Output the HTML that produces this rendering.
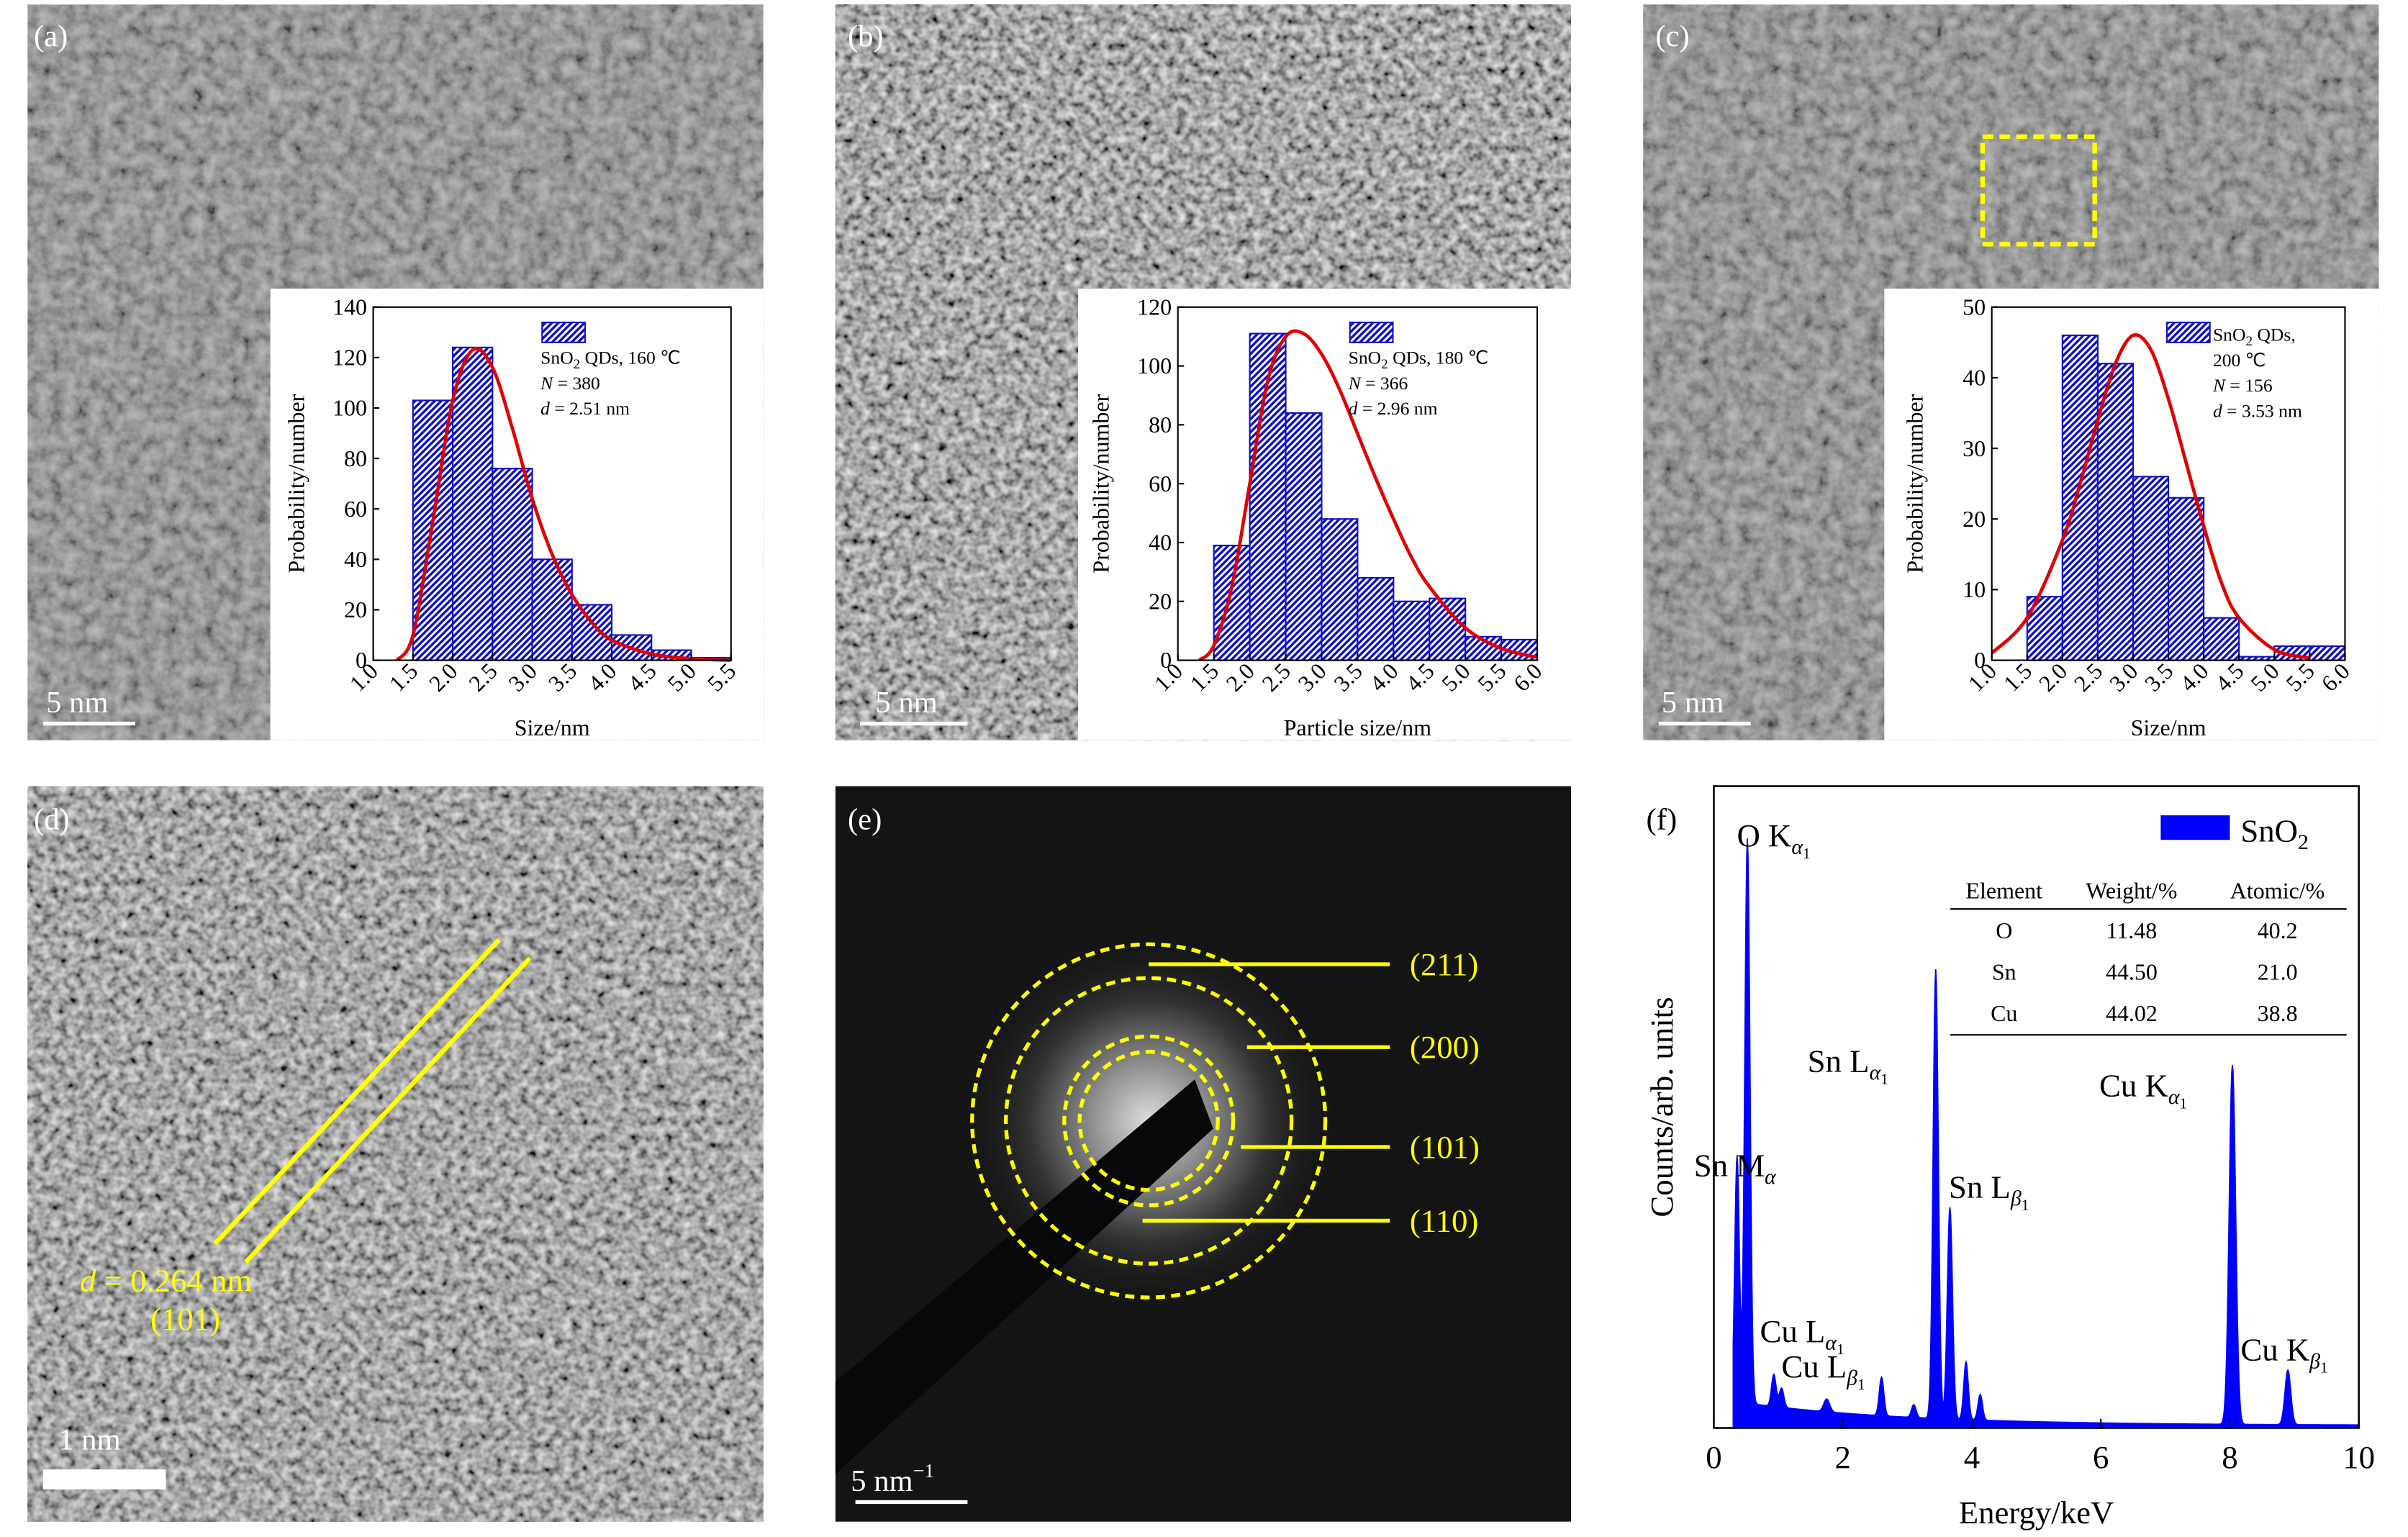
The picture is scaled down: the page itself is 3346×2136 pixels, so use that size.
<!DOCTYPE html>
<html><head><meta charset="utf-8"><style>
html,body{margin:0;padding:0;background:#fff}
svg{display:block;font-family:"Liberation Serif",serif}
</style></head><body>
<svg id="fig" xmlns="http://www.w3.org/2000/svg" width="3346" height="2136" viewBox="0 0 1568 1001">
<defs>
<filter id="tem" x="0" y="0" width="1" height="1">
<feTurbulence type="fractalNoise" baseFrequency="0.12" numOctaves="3" seed="3"/>
<feColorMatrix type="matrix" values="1.4 0 0 0 -0.2  1.4 0 0 0 -0.2  1.4 0 0 0 -0.2  0 0 0 0 1"/>
</filter>
<filter id="tem2" x="0" y="0" width="1" height="1">
<feTurbulence type="fractalNoise" baseFrequency="0.18" numOctaves="2" seed="7"/>
<feColorMatrix type="matrix" values="1.4 0 0 0 -0.25  1.4 0 0 0 -0.25  1.4 0 0 0 -0.25  0 0 0 0 1"/>
</filter>
<pattern id="hatch" width="3" height="3" patternUnits="userSpaceOnUse" patternTransform="rotate(45)">
<rect width="3" height="3" fill="#fff"/><rect width="1.6" height="3" fill="#1010c8"/>
</pattern>
<radialGradient id="glow" cx="0.5" cy="0.5" r="0.5"><stop offset="0" stop-color="#ddd"/><stop offset="0.25" stop-color="#999"/><stop offset="0.6" stop-color="#333"/><stop offset="1" stop-color="#111" stop-opacity="0"/></radialGradient>
</defs>

<g><rect x="18" y="3" width="479" height="479" fill="#7c7c7c"/><rect x="18" y="3" width="479" height="479" filter="url(#tem)" opacity="0.45"/></g>
<g><rect x="544" y="3" width="479" height="479" fill="#666"/><rect x="544" y="3" width="479" height="479" filter="url(#tem2)" opacity="0.85"/></g>
<g><rect x="1070" y="3" width="479" height="479" fill="#7c7c7c"/><rect x="1070" y="3" width="479" height="479" filter="url(#tem)" opacity="0.45"/></g>
<g><rect x="18" y="512" width="479" height="479" fill="#777"/><rect x="18" y="512" width="479" height="479" filter="url(#tem2)" opacity="0.8"/></g>
<g><rect x="544" y="512" width="479" height="479" fill="#141414"/>
<circle cx="748" cy="730" r="130" fill="url(#glow)"/>
<polygon points="544,900 544,960 790,735 778,703" fill="#080808"/>
</g>
<rect x="176" y="188" width="321" height="294" fill="#fff"/>
<rect x="702" y="188" width="321" height="294" fill="#fff"/>
<rect x="1227" y="188" width="322" height="294" fill="#fff"/>

<g font-size="20" fill="#fff">
<text x="22" y="30">(a)</text>
<text x="552" y="30">(b)</text>
<text x="1078" y="30">(c)</text>
<text x="22" y="540">(d)</text>
<text x="552" y="540">(e)</text>
</g>
<text x="1072" y="540" font-size="20">(f)</text>
<g font-size="20" fill="#fff">
<text x="30" y="464">5 nm</text><rect x="28" y="470" width="60" height="2.5"/>
<text x="570" y="464">5 nm</text><rect x="560" y="470" width="70" height="2.5"/>
<text x="1082" y="464">5 nm</text><rect x="1080" y="470" width="60" height="2.5"/>
<text x="38" y="944">1 nm</text><rect x="28" y="957" width="80" height="13"/>
<text x="554" y="971">5 nm<tspan font-size="13" dy="-9">−1</tspan></text><rect x="557" y="977" width="73" height="2.5"/>
</g>
<rect x="1291" y="89" width="73" height="70" fill="none" stroke="#ffff00" stroke-width="3" stroke-dasharray="7,4"/>

<g stroke="#ffff00" stroke-width="3">
<line x1="140" y1="810" x2="325" y2="612"/><line x1="160" y1="822" x2="345" y2="624"/>
</g>
<text x="52" y="841" font-size="21" fill="#ffff00"><tspan font-style="italic">d</tspan> = 0.264 nm</text>
<text x="98" y="866" font-size="21" fill="#ffff00">(101)</text>

<g id="rings" fill="none" stroke="#ffff00" stroke-width="2.5" stroke-dasharray="6,4"></g>
<g id="ringlabels" font-size="21" fill="#ffff00"></g>

<g id="hists"></g>
<g id="eds"></g>
</svg>
<script>
const NS="http://www.w3.org/2000/svg";
function mk(tag,attrs,parent,text){const e=document.createElementNS(NS,tag);for(const k in attrs)e.setAttribute(k,attrs[k]);if(text!==undefined)e.textContent=text;parent.appendChild(e);return e;}

const histAEdges=[1.5,2.0,2.5,3.0,3.5,4.0,4.5,5.0,5.5];
const histACounts=[103,124,76,40,22,10,4,1];
const curveAX=[1.3,1.5,1.75,2.0,2.25,2.5,2.75,3.0,3.25,3.5,3.75,4.0,4.5,5.0,5.5];
const curveAY=[0,10,55,103,123,116,92,64,42,26,15,8,2.5,0.6,0];
const ticksAX=[1.0,1.5,2.0,2.5,3.0,3.5,4.0,4.5,5.0,5.5];
const ticksAY=[0,20,40,60,80,100,120,140];

const histBEdges=[1.5,2.0,2.5,3.0,3.5,4.0,4.5,5.0,5.5,6.0];
const histBCounts=[39,111,84,48,28,20,21,8,7];
const curveBX=[1.3,1.5,1.75,2.0,2.25,2.5,2.75,3.0,3.25,3.5,3.75,4.0,4.25,4.5,5.0,5.5,6.0];
const curveBY=[0,5,25,60,95,110,111,104,92,77,62,48,35,25,11,4,1];
const ticksBX=[1.0,1.5,2.0,2.5,3.0,3.5,4.0,4.5,5.0,5.5,6.0];
const ticksBY=[0,20,40,60,80,100,120];

const histCEdges=[1.5,2.0,2.5,3.0,3.5,4.0,4.5,5.0,5.5,6.0];
const histCCounts=[9,46,42,26,23,6,0.5,2,2];
const curveCX=[1.0,1.5,2.0,2.25,2.5,2.75,3.0,3.25,3.5,3.75,4.0,4.25,4.5,5.0,5.5];
const curveCY=[1,6,17,25,34,42,46,44,37,28,19,11,6,1.5,0.3];
const ticksCX=[1.0,1.5,2.0,2.5,3.0,3.5,4.0,4.5,5.0,5.5,6.0];
const ticksCY=[0,10,20,30,40,50];

function smoothPath(pts){
  let d='M'+pts[0][0].toFixed(1)+','+pts[0][1].toFixed(1);
  for(let i=0;i<pts.length-1;i++){
    const p0=pts[i-1]||pts[i],p1=pts[i],p2=pts[i+1],p3=pts[i+2]||p2;
    const c1=[p1[0]+(p2[0]-p0[0])/6,p1[1]+(p2[1]-p0[1])/6],c2=[p2[0]-(p3[0]-p1[0])/6,p2[1]-(p3[1]-p1[1])/6];
    d+='C'+c1.map(v=>v.toFixed(1)).join(',')+' '+c2.map(v=>v.toFixed(1)).join(',')+' '+p2[0].toFixed(1)+','+p2[1].toFixed(1);
  }
  return d;
}

function hist(id,box,xmin,xmax,ymax,edges,counts,cx,cy,tx,ty,xtitle,legend,legendBox){
  const g=mk('g',{},document.getElementById('hists'));
  
  
  const [L,T,R,B]=box;
  const X=v=>L+(v-xmin)/(xmax-xmin)*(R-L), Y=v=>B-v/ymax*(B-T);
  counts.forEach((c,i)=>{const r=mk('rect',{x:X(edges[i]),y:Y(c),width:X(edges[i+1])-X(edges[i]),height:B-Y(c),fill:'url(#hatch)',stroke:'#1010c8','stroke-width':1},g);
    });
  const p=mk('path',{d:smoothPath(cx.map((x,i)=>[X(x),Y(cy[i])])),fill:'none',stroke:'#e00000','stroke-width':2.2},g);
  
  mk('rect',{x:L,y:T,width:R-L,height:B-T,fill:'none',stroke:'#000','stroke-width':1},g);
  ty.forEach(v=>{mk('line',{x1:L,x2:L+4,y1:Y(v),y2:Y(v),stroke:'#000'},g);
    const t=mk('text',{x:L-4,y:Y(v)+5,'font-size':15,'text-anchor':'end'},g,String(v));});
  tx.forEach(v=>{mk('line',{x1:X(v),x2:X(v),y1:B,y2:B-4,stroke:'#000'},g);
    const t=mk('text',{x:X(v)+4,y:B+8,'font-size':15,'text-anchor':'end',transform:`rotate(-45 ${X(v)+4} ${B+8})`},g,v.toFixed(1));});
  const yt=mk('text',{x:0,y:0,'font-size':15,'text-anchor':'middle',transform:`translate(${L-45},${(T+B)/2}) rotate(-90)`},g,'Probability/number');
  
  const xt=mk('text',{x:(L+R)/2,y:479,'font-size':15,'text-anchor':'middle'},g,xtitle);
  
  const lg=mk('g',{'font-size':12},g);
  
  mk('rect',{x:legendBox[0],y:legendBox[1],width:28,height:13,fill:'url(#hatch)',stroke:'#1010c8'},lg);
  legend.forEach((s,i)=>{const t=mk('text',{x:legendBox[2],y:legendBox[3]+i*16.5},lg);t.innerHTML=s;});
}
hist('histogram-a',[243,200,476,430],1.0,5.5,140,histAEdges,histACounts,curveAX,curveAY,ticksAX,ticksAY,'Size/nm',
 ['SnO<tspan font-size="9" dy="3">2</tspan><tspan dy="-3"> QDs, 160 ℃</tspan>','<tspan font-style="italic">N</tspan> = 380','<tspan font-style="italic">d</tspan> = 2.51 nm'],[353,210,352,237]);
hist('histogram-b',[767,200,1001,430],1.0,6.0,120,histBEdges,histBCounts,curveBX,curveBY,ticksBX,ticksBY,'Particle size/nm',
 ['SnO<tspan font-size="9" dy="3">2</tspan><tspan dy="-3"> QDs, 180 ℃</tspan>','<tspan font-style="italic">N</tspan> = 366','<tspan font-style="italic">d</tspan> = 2.96 nm'],[879,210,878,237]);
hist('histogram-c',[1297,200,1527,430],1.0,6.0,50,histCEdges,histCCounts,curveCX,curveCY,ticksCX,ticksCY,'Size/nm',
 ['SnO<tspan font-size="9" dy="3">2</tspan><tspan dy="-3"> QDs,</tspan>','200 ℃','<tspan font-style="italic">N</tspan> = 156','<tspan font-style="italic">d</tspan> = 3.53 nm'],[1411,210,1441,222]);

const ringRadii=[115,93,55,45];
const ringLabels=['(211)','(200)','(101)','(110)'];
const ringLabelY=[628,682,747,795];
const ringLineX0=[748,812,808,744];
ringRadii.forEach((r,i)=>{const c=mk('circle',{cx:748,cy:730,r:r},document.getElementById('rings'));
  
  mk('line',{x1:ringLineX0[i],x2:905,y1:ringLabelY[i],y2:ringLabelY[i],stroke:'#ffff00','stroke-width':2.5},document.getElementById('ringlabels'));
  const t=mk('text',{x:918,y:ringLabelY[i]+7},document.getElementById('ringlabels'),ringLabels[i]);
  });

const peakE=[0.36,0.52,0.93,1.05,1.75,2.6,3.1,3.44,3.66,3.91,4.13,8.04,8.9];
const peakH=[38,88,5,3,2,6,2,70,33,9,4,56,8.5];
const peakW=[0.035,0.04,0.035,0.035,0.045,0.035,0.035,0.04,0.04,0.035,0.035,0.05,0.045];
const edsTicks=[0,2,4,6,8,10];
(function(){
  const g=document.getElementById('eds');
  
  const L=1116,R=1536,T=512,B=930,X=e=>L+e/10*(R-L),Y=v=>B-v/100*(B-T);
  let d='M'+X(0.3)+','+B;
  for(let e=0.3;e<=10.0001;e+=0.01){let v=(e<0.5?4:3.5*Math.exp(-(e-0.5)/2.5))+0.4;
    peakE.forEach((p,i)=>{v+=peakH[i]*Math.exp(-Math.pow((e-p)/peakW[i],2)/2);});
    d+='L'+X(e).toFixed(2)+','+Y(v).toFixed(2);}
  d+='L'+X(10)+','+B+'Z';
  const s=mk('path',{d:d,fill:'#0000ff',stroke:'#0000ff','stroke-width':0.8},g);
  
  mk('rect',{x:L,y:T,width:R-L,height:B-T,fill:'none',stroke:'#000','stroke-width':1.2},g);
  edsTicks.forEach(v=>{mk('line',{x1:X(v),x2:X(v),y1:B,y2:B-6,stroke:'#000'},g);
    const t=mk('text',{x:X(v),y:B+26,'font-size':21,'text-anchor':'middle'},g,String(v));});
  const xt=mk('text',{x:1326,y:992,'font-size':21,'text-anchor':'middle'},g,'Energy/keV');
  const yt=mk('text',{x:0,y:0,'font-size':21,'text-anchor':'middle',transform:'translate(1089,721) rotate(-90)'},g,'Counts/arb. units');
  const lab=[[1131,551,'O K','α','1'],[1177,698,'Sn L','α','1'],[1367,714,'Cu K','α','1'],[1103,766,'Sn M','α',''],[1269,780,'Sn L','β','1'],[1146,874,'Cu L','α','1'],[1160,897,'Cu L','β','1'],[1459,886,'Cu K','β','1']];
  lab.forEach(a=>{const t=mk('text',{x:a[0],y:a[1],'font-size':21},g);
    t.innerHTML=a[2]+'<tspan font-size="14" font-style="italic" dy="5">'+a[3]+'</tspan><tspan font-size="10" dy="3">'+a[4]+'</tspan>';
    });
  const lg=mk('g',{},g);
  mk('rect',{x:1407,y:531,width:45,height:16,fill:'#0000ff'},lg);
  const lt=mk('text',{x:1459,y:548,'font-size':21},lg);lt.innerHTML='SnO<tspan font-size="14" dy="5">2</tspan>';
  const tb=mk('g',{'font-size':15},g);
  mk('line',{x1:1270,x2:1528,y1:592,y2:592,stroke:'#000'},tb);mk('line',{x1:1270,x2:1528,y1:674,y2:674,stroke:'#000'},tb);
  const rows=[['Element','Weight/%','Atomic/%'],['O','11.48','40.2'],['Sn','44.50','21.0'],['Cu','44.02','38.8']];
  const cx=[1305,1388,1483],ry=[585,611,638,665];
  rows.forEach((r,i)=>r.forEach((c,j)=>{const t=mk('text',{x:cx[j],y:ry[i],'text-anchor':'middle'},tb,c);}));
})();
</script>
</body></html>
